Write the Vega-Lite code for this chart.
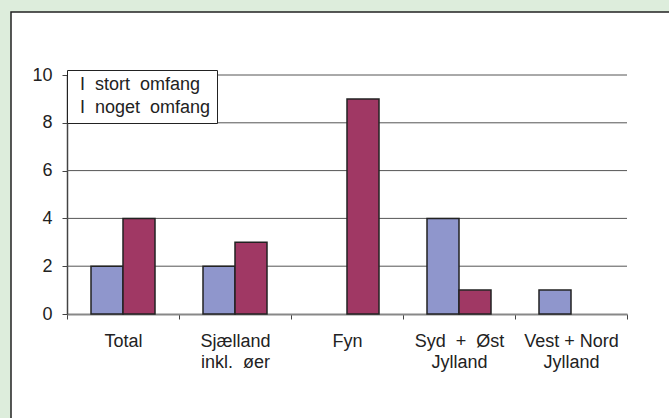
{
  "$schema": "https://vega.github.io/schema/vega-lite/v6.json",
  "width": 660,
  "height": 410,
  "autosize": {"type": "none"},
  "padding": {"left": 11, "top": 12, "right": 0, "bottom": 0},
  "background": "#ddeddc",
  "config": {
    "view": {"fill": "white", "stroke": "#222", "strokeWidth": 1.5},
    "font": "Liberation Sans"
  },
  "layer": [
    {
      "data": {"values": [{"value": 2}, {"value": 4}, {"value": 6}, {"value": 8}, {"value": 10}]},
      "mark": {"type": "rule", "color": "#555", "strokeWidth": 1},
      "encoding": {
        "y": {
          "field": "value", "type": "quantitative",
          "scale": {"domain": [0, 10], "range": [302, 63], "nice": false},
          "axis": {
            "offset": -56, "values": [0, 2, 4, 6, 8, 10], "grid": false, "title": null,
            "domainColor": "#444", "domainWidth": 1.5, "tickColor": "#444", "tickSize": 5,
            "labelFontSize": 18, "labelColor": "#222", "labelPadding": 10
          }
        },
        "x": {"datum": 0, "type": "quantitative", "scale": {"domain": [0, 1], "range": [56, 616]}, "axis": null},
        "x2": {"datum": 1}
      }
    },
    {
      "data": {
        "values": [
          {"region": "Total", "serie": "I\u00a0\u00a0stort\u00a0\u00a0omfang", "value": 2},
          {"region": "Total", "serie": "I\u00a0\u00a0noget\u00a0\u00a0omfang", "value": 4},
          {"region": "Sjælland|inkl.\u00a0\u00a0øer", "serie": "I\u00a0\u00a0stort\u00a0\u00a0omfang", "value": 2},
          {"region": "Sjælland|inkl.\u00a0\u00a0øer", "serie": "I\u00a0\u00a0noget\u00a0\u00a0omfang", "value": 3},
          {"region": "Fyn", "serie": "I\u00a0\u00a0noget\u00a0\u00a0omfang", "value": 9},
          {"region": "Syd\u00a0\u00a0+\u00a0\u00a0Øst|Jylland", "serie": "I\u00a0\u00a0stort\u00a0\u00a0omfang", "value": 4},
          {"region": "Syd\u00a0\u00a0+\u00a0\u00a0Øst|Jylland", "serie": "I\u00a0\u00a0noget\u00a0\u00a0omfang", "value": 1},
          {"region": "Vest + Nord|Jylland", "serie": "I\u00a0\u00a0stort\u00a0\u00a0omfang", "value": 1}
        ]
      },
      "mark": {"type": "bar", "stroke": "#222", "strokeWidth": 1.5},
      "encoding": {
        "x": {
          "field": "region", "type": "nominal", "sort": null,
          "scale": {"range": [56, 616], "paddingInner": 0, "paddingOuter": 0},
          "axis": {
            "offset": -108, "title": null, "labelAngle": 0, "tickBand": "extent",
            "domainColor": "#888", "domainWidth": 2, "tickColor": "#444", "tickSize": 5,
            "labelFontSize": 18, "labelColor": "#222", "labelPadding": 13,
            "labelExpr": "split(datum.label, '|')", "labelLineHeight": 21, "labelBaseline": "top"
          }
        },
        "xOffset": {
          "field": "serie", "type": "nominal",
          "scale": {"domain": ["I\u00a0\u00a0stort\u00a0\u00a0omfang", "I\u00a0\u00a0noget\u00a0\u00a0omfang"], "paddingOuter": 0.75, "paddingInner": 0}
        },
        "y": {
          "field": "value", "type": "quantitative",
          "scale": {"domain": [0, 10], "range": [302, 63], "nice": false},
          "axis": {
            "offset": -56, "values": [0, 2, 4, 6, 8, 10], "grid": false, "title": null,
            "domainColor": "#444", "domainWidth": 1.5, "tickColor": "#444", "tickSize": 5,
            "labelFontSize": 18, "labelColor": "#222", "labelPadding": 10
          }
        },
        "color": {
          "field": "serie", "type": "nominal",
          "scale": {"domain": ["I\u00a0\u00a0stort\u00a0\u00a0omfang", "I\u00a0\u00a0noget\u00a0\u00a0omfang"], "range": ["#8f96cc", "#a03864"]},
          "legend": {
            "orient": "none", "legendX": 56, "legendY": 58, "title": null,
            "fillColor": "white", "strokeColor": "#222", "padding": 6,
            "symbolSize": 0, "symbolOpacity": 0, "symbolStrokeWidth": 0,
            "labelFontSize": 18, "labelColor": "#222", "labelOffset": -11, "rowPadding": 5
          }
        }
      }
    }
  ],
  "resolve": {"scale": {"x": "independent"}}
}
